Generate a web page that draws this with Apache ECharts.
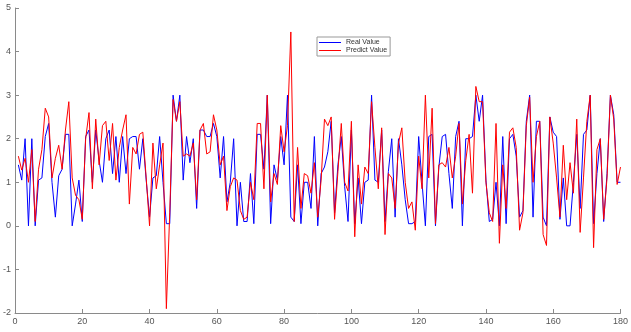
<!DOCTYPE html>
<html>
<head>
<meta charset="utf-8">
<script src="https://cdn.jsdelivr.net/npm/echarts@6/dist/echarts.min.js"></script>
<style>
  html, body { margin: 0; padding: 0; background: #fff; }
  #chart { width: 631px; height: 332px; }
</style>
</head>
<body>
<div id="chart"></div>
<script>
// sample index runs 1..180
const realValue = [
  1.4, 1.05, 2.0, 0.0, 2.0, 0.0, 1.05, 1.1, 2.05, 2.35,
  1.0, 0.2, 1.15, 1.3, 2.1, 2.1, 0.0, 0.5, 1.05, 0.1,
  2.05, 2.2, 1.0, 2.2, 1.5, 1.0, 2.0, 2.2, 1.2, 2.05,
  1.0, 2.05, 1.2, 2.0, 2.05, 2.05, 1.3, 2.0, 1.05, 0.2,
  1.1, 1.15, 2.05, 1.0, 0.05, 0.05, 3.0, 2.4, 3.0, 1.05,
  2.05, 1.45, 2.0, 0.4, 2.2, 2.2, 2.05, 2.05, 2.35, 2.05,
  1.1, 2.05, 0.55, 1.0, 2.0, 0.0, 1.0, 0.1, 0.1, 1.2,
  0.05, 2.1, 2.1, 1.3, 3.0, 0.05, 1.4, 1.05, 2.05, 1.4,
  3.0, 0.2, 0.1, 1.4, 0.05, 1.0, 1.0, 0.4, 2.05, 0.0,
  1.2, 1.35, 1.7, 2.4, 0.3, 1.4, 2.05, 0.9, 0.1, 2.2,
  0.05, 1.1, 0.05, 1.0, 1.05, 3.0, 1.05, 1.0, 2.2, 0.1,
  1.25, 2.0, 0.2, 2.0, 1.4, 0.6, 0.05, 0.05, 0.1, 2.05,
  1.0, 0.0, 2.05, 2.1, 0.0, 1.35, 2.05, 2.1, 1.2, 0.4,
  2.05, 2.4, 0.0, 2.0, 2.0, 2.05, 3.0, 2.4, 3.0, 1.05,
  0.1, 0.15, 1.0, 0.0, 2.05, 0.05, 2.0, 2.1, 1.6, 0.2,
  0.35, 2.4, 3.0, 0.2, 2.4, 2.4, 0.2, 0.0, 2.5, 2.15,
  2.05, 0.15, 1.1, 0.0, 0.0, 1.0, 2.1, 0.4, 2.1, 2.2,
  3.0, 0.05, 1.2, 2.0, 0.1, 1.2, 3.0, 2.55, 1.0, 1.0
];
const predictValue = [
  1.6, 1.28, 1.55, 1.0, 1.75, 0.1, 1.3, 1.75, 2.7, 2.5,
  1.1, 1.55, 1.85, 1.3, 2.2, 2.85, 1.1, 0.7, 0.6, 0.15,
  2.0, 2.6, 0.85, 2.45, 1.4, 2.3, 2.4, 1.5, 2.35, 1.05,
  1.8, 2.2, 2.55, 0.5, 1.8, 1.65, 2.1, 2.15, 1.1, 0.0,
  1.9, 0.85, 1.4, 1.9, -1.9, 0.3, 2.9, 2.4, 2.85, 1.6,
  1.65, 1.6, 1.9, 0.6, 2.2, 2.35, 1.65, 1.7, 2.55, 2.2,
  1.4, 1.6, 0.35, 0.9, 1.1, 1.05, 0.35, 0.15, 0.2, 1.0,
  0.6, 2.35, 2.35, 0.85, 3.0, 0.55, 1.2, 0.95, 2.3, 1.7,
  2.3, 4.45, 0.1, 1.8, 0.4, 1.2, 1.15, 0.75, 1.45, 0.2,
  1.05, 2.45, 2.3, 2.5, 0.15, 1.25, 2.35, 1.0, 0.8, 2.4,
  -0.25, 1.4, 0.5, 1.35, 1.2, 2.85, 1.8, 0.85, 2.25, -0.2,
  1.2, 1.1, 0.4, 1.9, 2.25, 1.0, 0.4, 0.55, -0.1, 1.6,
  0.85, 3.0, 1.1, 2.7, 0.05, 1.4, 1.45, 1.35, 1.8, 1.1,
  1.6, 2.35, 0.5, 1.5, 2.1, 0.75, 3.2, 2.85, 2.85, 1.0,
  0.3, 0.1, 2.35, -0.4, 1.4, 0.4, 2.15, 2.25, 1.8, -0.1,
  0.3, 2.3, 2.95, 1.0, 2.05, 2.4, -0.2, -0.45, 2.5, 1.9,
  1.1, 0.2, 1.85, 0.6, 1.45, 0.75, 2.45, -0.15, 1.1, 2.4,
  3.0, -0.5, 1.75, 2.0, 0.15, 1.1, 3.0, 2.45, 0.95, 1.35
];
const seriesNames = ['Real Value', 'Predict Value'];

const chart = echarts.init(document.getElementById('chart'));
const toPairs = arr => arr.map((v, i) => [i + 1, v]);

const axisCommon = {
  axisLine: { show: true, onZero: false, lineStyle: { color: '#8a8a8a', width: 1 } },
  axisTick: { show: true, inside: true, length: 4, lineStyle: { color: '#8a8a8a' } },
  splitLine: { show: false },
  axisLabel: { color: '#555', fontSize: 9, fontFamily: 'Liberation Sans', margin: 4 }
};

let option = {
  animation: false,
  backgroundColor: '#fff',
  grid: { left: 12, right: 9, top: 8, bottom: 19 },
  legend: {
    data: seriesNames,
    icon: 'rect',
    orient: 'vertical',
    left: 317,
    top: 37,
    backgroundColor: '#fff',
    borderColor: '#999',
    borderWidth: 1,
    padding: [2, 3, 2, 2],
    itemGap: 1,
    itemWidth: 22,
    itemHeight: 1,
    textStyle: { fontSize: 7, color: '#333', fontFamily: 'Liberation Sans', padding: [0, 0, 0, 0] }
  },
  xAxis: Object.assign({}, axisCommon, { type: 'value', min: 0, max: 180, interval: 20 }),
  yAxis: Object.assign({}, axisCommon, { type: 'value', min: -2, max: 5, interval: 1 }),
  series: [
    {
      name: seriesNames[0], type: 'line', data: toPairs(realValue),
      symbol: 'none', lineStyle: { color: '#0000ff', width: 1 }, itemStyle: { color: '#0000ff' }
    },
    {
      name: seriesNames[1], type: 'line', data: toPairs(predictValue),
      symbol: 'none', lineStyle: { color: '#ff0000', width: 1 }, itemStyle: { color: '#ff0000' }
    }
  ]
};
option && chart.setOption(option);
</script>
</body>
</html>
